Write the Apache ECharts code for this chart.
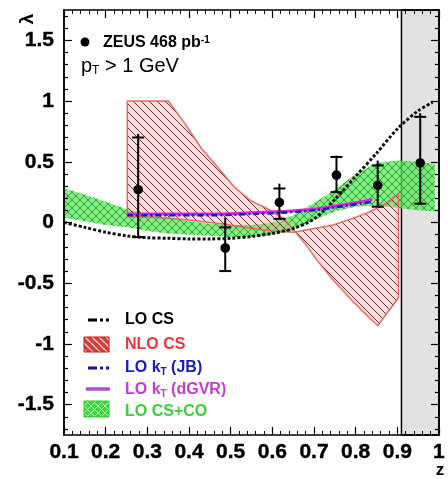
<!DOCTYPE html>
<html><head><meta charset="utf-8">
<script src="https://cdn.jsdelivr.net/npm/echarts@6/dist/echarts.min.js"></script>
<style>html,body{margin:0;padding:0;background:#fff}#c{width:448px;height:479px}</style>
</head><body><div id="c"></div>
<script>
// ---- axes ----
const xTicks = [0.1,0.2,0.3,0.4,0.5,0.6,0.7,0.8,0.9,1.0];
const xTickLabels = ['0.1','0.2','0.3','0.4','0.5','0.6','0.7','0.8','0.9','1'];
const yTicks = [-1.5,-1,-0.5,0,0.5,1,1.5];
const yTickLabels = ['-1.5','-1','-0.5','0','0.5','1','1.5'];
const grayStart = 0.91;

// ---- ZEUS data ----
const zeusZ   = [0.278, 0.487, 0.617, 0.754, 0.853, 0.955];
const zeusLam = [0.27, -0.21, 0.165, 0.39, 0.305, 0.49];
const zeusStatHi = [0.70, -0.04, 0.28, 0.54, 0.47, 0.87];
const zeusTotHi  = [0.73, 0.04, 0.32, 0.55, 0.51, 0.90];
const zeusLo     = [-0.12, -0.40, 0.03, 0.25, 0.13, 0.155];

// ---- LO CS ----
const loCsZ = [0.10,0.15,0.20,0.25,0.30,0.35,0.40,0.45,0.50,0.55,0.60,0.65,0.70,0.75,0.80,0.85,0.90,0.95,0.985];
const loCsL = [0.00,-0.04,-0.08,-0.11,-0.125,-0.13,-0.135,-0.135,-0.13,-0.115,-0.09,-0.05,0.03,0.19,0.38,0.57,0.77,0.92,0.99];

// ---- NLO CS band (edge A, edge B) ----
const nloAZ = [0.252,0.351,0.391,0.43,0.47,0.509,0.548,0.588,0.628,0.651,0.68,0.707,0.745,0.785,0.82,0.853,0.903];
const nloAL = [1.0,1.0,0.81,0.61,0.45,0.29,0.18,0.115,0.03,-0.06,-0.18,-0.31,-0.47,-0.62,-0.74,-0.85,-0.62];
const nloBZ = [0.252,0.30,0.35,0.40,0.45,0.50,0.55,0.60,0.651,0.70,0.746,0.79,0.832,0.87,0.903];
const nloBL = [0.05,0.045,0.035,0.02,0.0,-0.02,-0.05,-0.07,-0.08,-0.05,-0.02,0.03,0.085,0.15,0.24];

// ---- LO CS+CO band ----
const coZ  = [0.10,0.15,0.20,0.25,0.30,0.35,0.40,0.45,0.50,0.55,0.60,0.65,0.70,0.75,0.80,0.85,0.90,0.95,0.99];
const coHi = [0.28,0.23,0.17,0.11,0.07,0.04,0.01,-0.01,-0.02,-0.02,0.0,0.06,0.16,0.27,0.40,0.49,0.51,0.50,0.48];
const coLo = [0.04,0.01,-0.02,-0.04,-0.07,-0.09,-0.10,-0.11,-0.12,-0.12,-0.10,-0.06,0.02,0.09,0.13,0.14,0.12,0.10,0.09];

// ---- LO kT ----
const ktZ    = [0.252,0.35,0.45,0.55,0.62,0.70,0.78,0.84];
const ktJB   = [0.06,0.06,0.06,0.07,0.08,0.10,0.14,0.17];
const ktDGVR = [0.07,0.07,0.07,0.08,0.09,0.11,0.15,0.19];

const FONT = '"Liberation Sans", Arial, sans-serif';

function hatch(size, bg, fg, dirs, lw) {
  const c = document.createElement('canvas');
  c.width = c.height = size;
  const g = c.getContext('2d');
  g.fillStyle = bg; g.fillRect(0,0,size,size);
  g.strokeStyle = fg; g.lineWidth = lw;
  for (const d of dirs) {
    for (const k of [-size, 0, size]) {
      g.beginPath();
      if (d === '\\') { g.moveTo(k, 0); g.lineTo(k+size, size); }
      else { g.moveTo(k, size); g.lineTo(k+size, 0); }
      g.stroke();
    }
  }
  return c;
}
const redPat = {image: hatch(8, 'rgba(245,160,160,0.35)', 'rgba(95,30,30,0.9)', ['\\'], 1), repeat:'repeat'};
const greenPat = {image: hatch(8, 'rgba(90,230,90,0.75)', 'rgba(40,160,40,0.9)', ['\\','/'], 1), repeat:'repeat'};
const redBox = {image: hatch(7, '#d83a3a', 'rgba(255,220,220,0.9)', ['\\'], 1.5), repeat:'repeat'};
const greenBox = {image: hatch(7, '#3fd83f', 'rgba(200,255,200,0.9)', ['\\','/'], 1), repeat:'repeat'};

function band(xa, ya, xb, yb, fill, stroke) {
  return function(params, api) {
    const pts = [];
    for (let i = 0; i < xa.length; i++) pts.push(api.coord([xa[i], ya[i]]));
    for (let i = xb.length - 1; i >= 0; i--) pts.push(api.coord([xb[i], yb[i]]));
    return {type:'polygon', shape:{points: pts}, style:{fill: fill, stroke: stroke, lineWidth: stroke ? 1.5 : 0}};
  };
}

const yMinor = [];
for (let i = -17; i <= 17; i++) if (i % 5 !== 0) yMinor.push(i/10);

const axisCommon = {
  type:'value', z: 10,
  axisLine:{show:true, onZero:false, lineStyle:{color:'#000', width:1.5}},
  splitLine:{show:false}
};
const labelStyle = {fontFamily:FONT, fontWeight:'bold', fontSize:21, color:'#000', textBorderColor:'#000', textBorderWidth:0.4};
function yAx(pos, ticks, len, labels) {
  return Object.assign({}, axisCommon, {
    position: pos, min:-1.75, max:1.75,
    axisTick:{show:true, inside:true, length:len, customValues: ticks, lineStyle:{color:'#000', width:1.2}},
    axisLabel: labels ? Object.assign({show:true, customValues: yTicks, margin:10,
      formatter: v => { const i = yTicks.findIndex(t => Math.abs(t - v) < 1e-6); return i >= 0 ? yTickLabels[i] : ''; }}, labelStyle) : {show:false}
  });
}
function xAx(pos, labels) {
  return Object.assign({}, axisCommon, {
    position: pos, min:0.1, max:1.0, interval:0.1,
    axisTick:{show:true, inside:true, length:8, lineStyle:{color:'#000', width:1.2}},
    minorTick:{show:true, splitNumber:5, length:4, lineStyle:{color:'#000', width:1}},
    axisLabel: labels ? Object.assign({show:true, margin:7,
      formatter: v => { const i = xTicks.findIndex(t => Math.abs(t - v) < 1e-6); return i >= 0 ? xTickLabels[i] : ''; }}, labelStyle) : {show:false}
  });
}

const chart = echarts.init(document.getElementById('c'), null, {renderer:'canvas'});
chart.setOption({
  animation:false,
  backgroundColor:'#fff',
  grid:{left:64, right:4, top:10, bottom:44},
  xAxis:[xAx('bottom', true), xAx('top', false)],
  yAxis:[yAx('left', yTicks, 8, true), yAx('left', yMinor, 4, false), yAx('right', yTicks, 8, false), yAx('right', yMinor, 4, false)],
  series:[
    {type:'line', data:[], z:0, silent:true,
     markArea:{silent:true, itemStyle:{color:'#e2e2e2', borderColor:'#000', borderWidth:1.5},
       data:[[{xAxis:grayStart},{xAxis:1.0}]]}},
    {type:'custom', z:1, data:[0], renderItem: band(coZ, coHi, coZ, coLo, greenPat, null)},
    {type:'custom', z:2, data:[0], renderItem: band(nloAZ, nloAL, nloBZ, nloBL, redPat, 'rgba(230,90,90,0.9)')},
    {type:'line', z:3, data: loCsZ.map((z,i)=>[z, loCsL[i]]), showSymbol:false, smooth:0.3,
     lineStyle:{color:'#111', width:3, type:[3,2]}},
    {type:'line', z:4, data: ktDGVR.map((v,i)=>[ktZ[i], v]), showSymbol:false, smooth:0.3,
     lineStyle:{color:'#e020e0', width:3}},
    {type:'line', z:4, data: ktJB.map((v,i)=>[ktZ[i], v]), showSymbol:false, smooth:0.3,
     lineStyle:{color:'#1515c0', width:2.5, type:[6,3,2,3]}},
    {type:'custom', z:6, data: zeusZ.map((z,i)=>[z, zeusLam[i], zeusStatHi[i], zeusTotHi[i], zeusLo[i]]),
     renderItem: function(params, api) {
       const z = api.value(0);
       const p = api.coord([z, api.value(1)]);
       const sh = api.coord([z, api.value(2)]);
       const th = api.coord([z, api.value(3)]);
       const lo = api.coord([z, api.value(4)]);
       const st = {stroke:'#000', lineWidth:2};
       return {type:'group', children:[
         {type:'line', shape:{x1:p[0], y1:th[1], x2:p[0], y2:lo[1]}, style:st},
         {type:'line', shape:{x1:p[0]-6, y1:sh[1], x2:p[0]+6, y2:sh[1]}, style:st},
         {type:'line', shape:{x1:p[0]-6, y1:lo[1], x2:p[0]+6, y2:lo[1]}, style:st},
         {type:'circle', shape:{cx:p[0], cy:p[1], r:4.8}, style:{fill:'#000'}}
       ]};
     }}
  ],
  graphic:[
    {type:'text', x:28, y:19, rotation:Math.PI/2, style:{text:'λ', font:'bold 19px '+FONT, fill:'#000', align:'center', verticalAlign:'middle'}},
    {type:'text', x:440, y:470, style:{text:'z', font:'bold 17px '+FONT, fill:'#000', align:'center', verticalAlign:'middle'}},
    {type:'circle', shape:{cx:85, cy:42, r:4.5}, style:{fill:'#000'}},
    {type:'text', x:103, y:35, style:{text:'{a|ZEUS 468 pb}{s|-1}', rich:{a:{font:'bold 16px '+FONT, fill:'#000', lineHeight:16}, s:{font:'bold 10px '+FONT, fill:'#000', verticalAlign:'top', lineHeight:10, padding:[0,0,8,0]}}}},
    {type:'text', x:81, y:55, style:{text:'{a|p}{b|T}{a| > 1 GeV}', rich:{a:{font:'20px '+FONT, fill:'#000', lineHeight:22}, b:{font:'12px '+FONT, fill:'#000', padding:[10,0,0,0]}}}},
    // legend
    {type:'line', shape:{x1:88, y1:320, x2:110, y2:320}, style:{stroke:'#000', lineWidth:3, lineDash:[9,3,3,3,3,3]}},
    {type:'text', x:125, y:320, style:{text:'LO CS', font:'bold 16px '+FONT, fill:'#000', verticalAlign:'middle'}},
    {type:'rect', shape:{x:84, y:337, width:25, height:15}, style:{fill:redBox, stroke:'#c02020', lineWidth:1}},
    {type:'text', x:125, y:345, style:{text:'NLO CS', font:'bold 16px '+FONT, fill:'#e83a3a', verticalAlign:'middle'}},
    {type:'line', shape:{x1:88, y1:368, x2:110, y2:368}, style:{stroke:'#151590', lineWidth:3, lineDash:[9,3,3,3,3,3]}},
    {type:'text', x:125, y:368, style:{text:'{a|LO k}{b|T}{a| (JB)}', rich:{a:{font:'bold 16px '+FONT, fill:'#1a1ab8'}, b:{font:'bold 10px '+FONT, fill:'#1a1ab8', padding:[8,0,0,0]}}, verticalAlign:'middle'}},
    {type:'line', shape:{x1:86, y1:389, x2:110, y2:389}, style:{stroke:'#b050c8', lineWidth:3.5}},
    {type:'text', x:125, y:390, style:{text:'{a|LO k}{b|T}{a| (dGVR)}', rich:{a:{font:'bold 16px '+FONT, fill:'#c23cd2'}, b:{font:'bold 10px '+FONT, fill:'#c23cd2', padding:[8,0,0,0]}}, verticalAlign:'middle'}},
    {type:'rect', shape:{x:84, y:401, width:25, height:16}, style:{fill:greenBox, stroke:'#30c030', lineWidth:1}},
    {type:'text', x:125, y:412, style:{text:'LO CS+CO', font:'bold 16px '+FONT, fill:'#3ccf3c', verticalAlign:'middle'}}
  ]
});
</script></body></html>
